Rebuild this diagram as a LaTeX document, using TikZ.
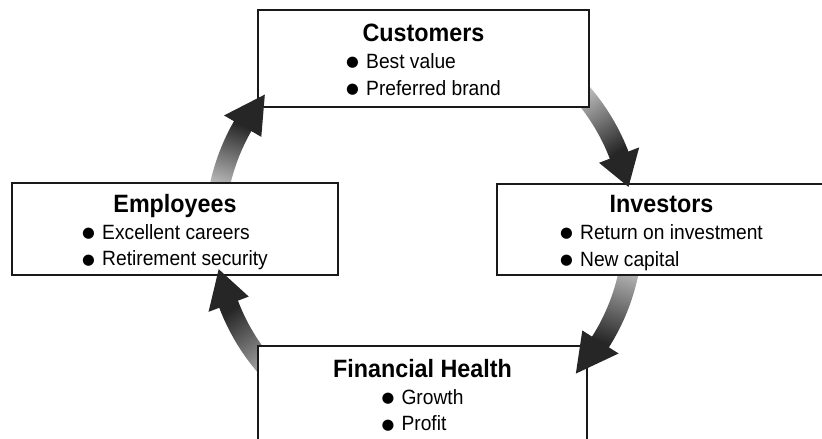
\documentclass[tikz,border=0pt]{standalone}
\usepackage{fontspec}
\setmainfont{Liberation Sans}[FakeStretch=0.93]
\newfontfamily\symbolfont{DejaVu Sans}
\usetikzlibrary{calc}
\pgfdeclarelayer{background}
\pgfdeclarelayer{foreground}
\pgfsetlayers{background,main,foreground}
\definecolor{arrowdark}{gray}{0.15}
\definecolor{arrowlight}{gray}{0.82}
\tikzset{
    box/.style={
           rectangle,
           draw=black!90, line width=1.9pt,
           fill=white,
           align=center,
           inner sep=0pt,
           font=\fontsize{15.5}{20}\selectfont}
}
\newcommand{\heading}[1]{{\rule{0pt}{21pt}\fontsize{18.8}{20}\selectfont\bfseries #1}}
\newcommand{\blob}{\raisebox{0.08em}{\symbolfont\fontsize{11}{11}\selectfont ●}\hspace{0.35em}}
% fat shaded arc round (hub): tail angle, head base angle, tip angle
\newcommand{\cyclearrow}[3]{%
  \pgfmathsetmacro{\shadeang}{(#1+#2)/2-180}%
  \pgfmathsetmacro{\bodyend}{#2-1}%
  \begin{pgfonlayer}{background}
    \shade[top color=arrowdark, bottom color=arrowlight, shading angle=\shadeang]
      (#1:219) arc[start angle=#1, end angle=\bodyend, radius=219]
      -- (\bodyend:199) arc[start angle=\bodyend, end angle=#1, radius=199] -- cycle;
  \end{pgfonlayer}
  \begin{pgfonlayer}{foreground}
    \fill[arrowdark] (#2:230.5) -- (#3:209) -- (#2:187.5) -- cycle;
  \end{pgfonlayer}}

\begin{document}
\begin{tikzpicture}[x=0.75pt, y=-0.75pt]
    \useasboundingbox (0,0) rectangle (822,439);

    \node[box, minimum width=248.25pt, minimum height=72.75pt] (cust) at (423.5,58.5)
        {\heading{Customers}\\
         \begin{tabular}[t]{@{}l@{}}\blob Best value\\ \blob Preferred brand\end{tabular}};
    \node[box, minimum width=244.5pt, minimum height=69pt] (emp) at (175,229)
        {\heading{Employees}\\
         \begin{tabular}[t]{@{}l@{}}\blob Excellent careers\\ \blob Retirement security\end{tabular}};
    \node[box, minimum width=246.75pt, minimum height=68.25pt] (inv) at (661.5,229.5)
        {\heading{Investors}\\
         \begin{tabular}[t]{@{}l@{}}\blob Return on investment\\ \blob New capital\end{tabular}};
    \node[box, minimum width=246.75pt, minimum height=72pt] (fin) at (422.5,394)
        {\heading{Financial Health}\\
         \begin{tabular}[t]{@{}l@{}}\blob Growth\\ \blob Profit\end{tabular}};

    % the cycle: emp -> cust -> inv -> fin -> emp
    \coordinate (hub) at (424,230);
    \begin{scope}[shift={(hub)}, x=0.75pt, y=0.75pt]
        \cyclearrow{172}{150.2}{139.6}
        \cyclearrow{45}{21}{11.9}
        \cyclearrow{-5}{-32.4}{-43.4}
        \cyclearrow{-130}{-159.2}{-169.2}
    \end{scope}
\end{tikzpicture}
\end{document}
